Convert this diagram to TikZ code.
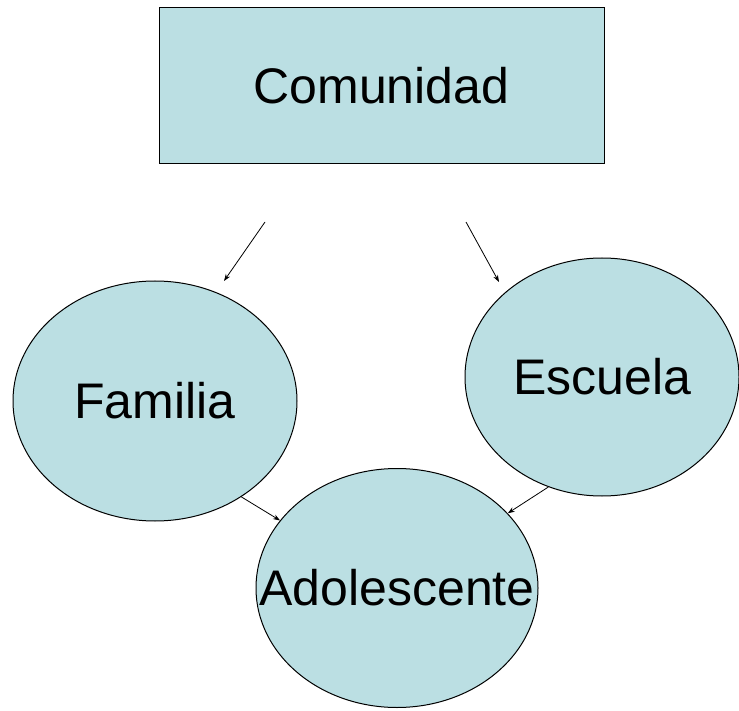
\documentclass[tikz,border=0pt]{standalone}
\usepackage{fontspec}
\setmainfont{Liberation Sans}
\usetikzlibrary{shapes.geometric,arrows.meta}
\definecolor{boxfill}{HTML}{BBDFE3}
\begin{document}
\begin{tikzpicture}[x=1pt,y=-1pt,
  shapebox/.style={draw=black,line width=1pt,fill=boxfill,inner sep=0pt,font=\fontsize{50}{60}\selectfont},
  ell/.style={shapebox,ellipse,inner xsep=-60pt,inner ysep=-20pt},
  conn/.style={line width=0.8pt,-{Stealth[length=7pt,width=5pt]}}]
\useasboundingbox (0,0) rectangle (739,711);
\node[shapebox,rectangle,minimum width=445pt,minimum height=156pt] (com) at (381.5,86) {Comunidad};
\node[ell,minimum width=284pt,minimum height=240pt] (fam) at (155,401) {Familia};
\node[ell,minimum width=274pt,minimum height=238pt] (esc) at (602,377) {Escuela};
\node[ell,minimum width=282pt,minimum height=239pt] (ado) at (397,588) {Adolescente};
\coordinate (s1) at (265,222);
\coordinate (e1) at (224,281);
\coordinate (s2) at (466,222);
\coordinate (e2) at (499,282);
\draw[conn] (s1) -- (e1);
\draw[conn] (s2) -- (e2);
\draw[conn] (fam.-48) -- (ado.150);
\draw[conn] (esc.244) -- (ado.34);
\end{tikzpicture}
\end{document}
